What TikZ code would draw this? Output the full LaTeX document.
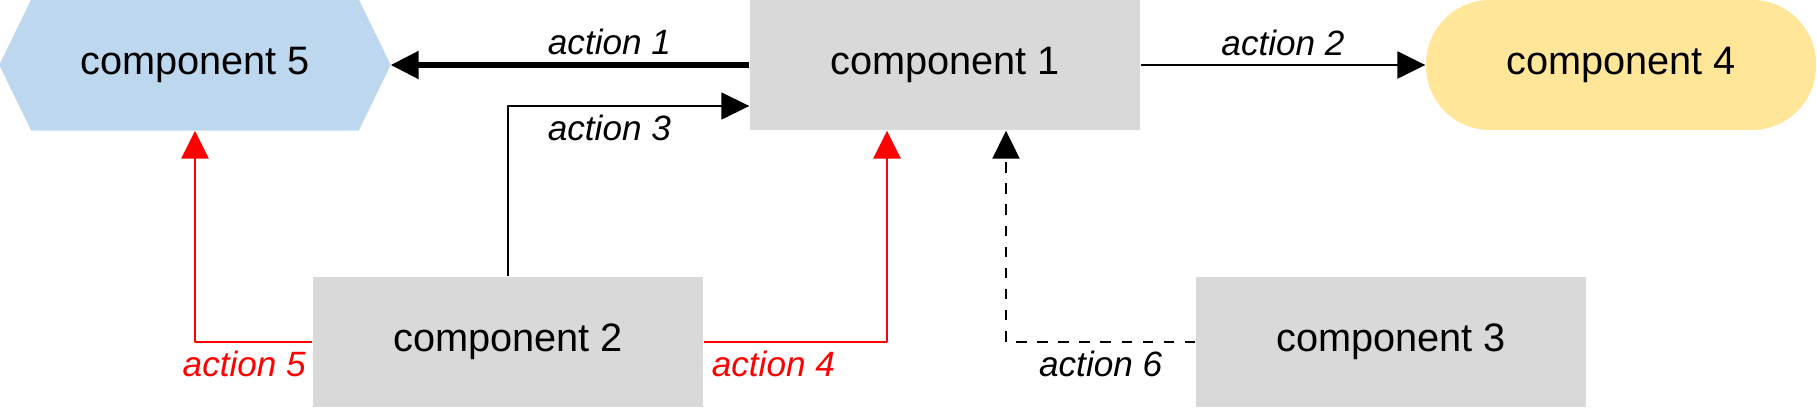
\documentclass[tikz,border=0pt]{standalone}
\usepackage{fontspec}
\setmainfont{Liberation Sans}
\usetikzlibrary{arrows.meta,calc,backgrounds}
\definecolor{greybox}{HTML}{D9D9D9}
\definecolor{bluehex}{HTML}{BDD7EE}
\definecolor{yellowbox}{HTML}{FFE699}
\definecolor{redline}{HTML}{FF0000}

\begin{document}
\begin{tikzpicture}[>={Triangle[length=2.8mm,width=2.7mm]}, line join=round,
	comp/.style={fill=greybox, minimum width=3.9cm, minimum height=1.3cm, inner sep=0pt, font=\fontsize{11.3}{13}\selectfont},
	lbl/.style={font=\fontsize{10}{12}\selectfont\itshape, inner sep=0.8mm}]
	\useasboundingbox (0,0) rectangle (18.17,4.07);
	\node[comp] (c1) at (9.45,3.42) {component 1};
	\node[comp] (c2) at (5.08,0.65) {component 2};
	\node[comp] (c3) at (13.91,0.65) {component 3};
	\node[comp, fill=yellowbox, rounded corners=6.4mm] (c4) at (16.21,3.42) {component 4};
	\node[comp, fill=none, minimum width=3.26cm] (c5) at (1.95,3.42) {component 5};
	\coordinate (c5e) at ($(c5.east)+(0.32,0)$);
	\coordinate (c5w) at ($(c5.west)-(0.32,0)$);
	\begin{scope}[on background layer]
		\fill[bluehex] (c5.north west) -- (c5.north east) -- (c5e) -- (c5.south east) -- (c5.south west) -- (c5w) -- cycle;
	\end{scope}
	% actions
	\draw[->, line width=1.5pt] (c1.west) -- node[lbl, above, pos=0.39] (a1) {action 1} (c5e);
	\draw[->, line width=0.7pt] (c1.east) -- node[lbl, above] (a2) {action 2} (c4.west);
	\draw[->, line width=0.45pt] (c2.north) |- node[lbl, below, pos=0.71] (a3) {action 3} ([yshift=-4.1mm]c1.west);
	\draw[->, redline, line width=0.8pt] (c2.east) -| node[lbl, below, pos=0.19] (a4) {action 4} ([xshift=-5.8mm]c1.south);
	\draw[->, redline, line width=0.8pt] (c2.west) -| node[lbl, below, pos=0.29] (a5) {action 5} (c5.south);
	\draw[->, dashed, line width=0.6pt] (c3.west) -| node[lbl, below, pos=0.25] (a6) {action 6} ([xshift=6.1mm]c1.south);
\end{tikzpicture}
\end{document}
